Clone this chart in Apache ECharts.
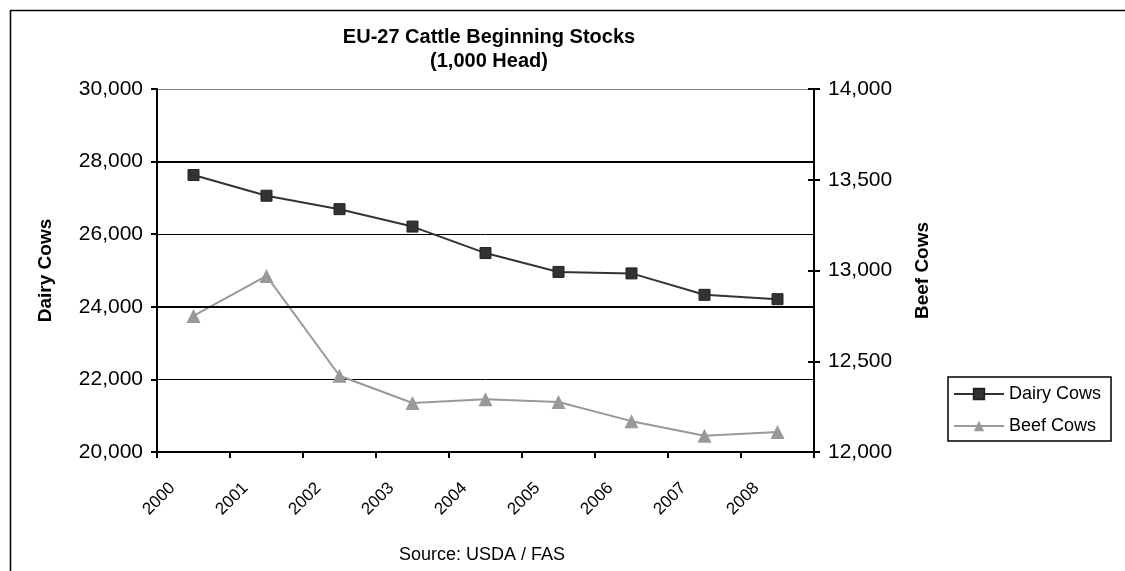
<!DOCTYPE html>
<html>
<head>
<meta charset="utf-8">
<script src="https://cdn.jsdelivr.net/npm/echarts@6/dist/echarts.min.js"></script>
<style>
  html, body { margin: 0; padding: 0; background: #fff; }
  #chart { width: 1125px; height: 571px; }
</style>
</head>
<body>
<div id="chart"></div>
<script>
// 数据
var years = ["2000", "2001", "2002", "2003", "2004", "2005", "2006", "2007", "2008"];
var tickLabels = ["2000", "2001", "2002", "2003", "2004", "2005", "2006", "2007", "2008", ""];
var dairyCows = [27630, 27060, 26690, 26210, 25480, 24960, 24920, 24330, 24210];
var beefCows = [12750, 12970, 12420, 12270, 12290, 12275, 12170, 12090, 12110];
// 原图中较粗的两条网格线
var heavyGridLines = [28000, 24000];

var chart = echarts.init(document.getElementById("chart"));
var font = "Arial, 'Liberation Sans', sans-serif";

function thousands(v) {
  return v.toLocaleString("en-US");
}

chart.setOption({
  animation: false,
  textStyle: { fontFamily: font },
  title: {
    text: "EU-27 Cattle Beginning Stocks\n(1,000 Head)",
    left: 484,
    top: 20,
    textAlign: "center",
    textStyle: { fontSize: 20, fontWeight: "bold", color: "#000", lineHeight: 24, fontFamily: font }
  },
  graphic: [
    {
      type: "rect",
      shape: { x: 10.5, y: 10.5, width: 1125, height: 600 },
      style: { fill: "none", stroke: "#000", lineWidth: 1.5 },
      silent: true
    },
    {
      type: "text",
      x: 482,
      y: 555,
      style: {
        text: "Source: USDA / FAS", fontSize: 18, fill: "#000", fontFamily: font,
        align: "center", verticalAlign: "middle"
      }
    }
  ],
  legend: {
    orient: "vertical",
    left: 948,
    top: 377,
    padding: [8, 10, 6, 5],
    itemGap: 14,
    itemWidth: 50,
    itemHeight: 13,
    borderColor: "#000",
    borderWidth: 1.5,
    textStyle: { fontSize: 18, color: "#000", fontFamily: font },
    data: ["Dairy Cows", "Beef Cows"]
  },
  grid: { left: 157, right: 311, top: 89, bottom: 119, containLabel: false },
  xAxis: [
    {
      type: "category",
      data: years,
      boundaryGap: true,
      axisLine: { show: false },
      axisTick: { show: false },
      axisLabel: { show: false }
    },
    {
      type: "category",
      data: tickLabels,
      boundaryGap: false,
      position: "bottom",
      axisLine: { lineStyle: { color: "#000", width: 2 } },
      axisTick: { length: 6, lineStyle: { color: "#000", width: 2 } },
      axisLabel: {
        rotate: 45, fontSize: 17, color: "#000", margin: 49, interval: 0, fontFamily: font,
        align: "center", verticalAlign: "middle", padding: [0, 0, 0, 6]
      },
      splitLine: { show: false }
    }
  ],
  yAxis: [
    {
      type: "value",
      min: 20000,
      max: 30000,
      interval: 2000,
      position: "left",
      name: "Dairy Cows",
      nameLocation: "middle",
      nameRotate: 90,
      nameGap: 102,
      nameTextStyle: { fontSize: 19, fontWeight: "bold", color: "#000", fontFamily: font },
      axisLine: { show: true, lineStyle: { color: "#000", width: 2 } },
      axisTick: { show: true, length: 6, lineStyle: { color: "#000", width: 2 } },
      axisLabel: { fontSize: 21, color: "#000", margin: 14, fontFamily: font, formatter: thousands },
      splitLine: {
        show: true,
        lineStyle: { color: ["#000", "#000", "#000", "#000", "#000", "#808080"], width: 1 }
      }
    },
    {
      type: "value",
      min: 12000,
      max: 14000,
      interval: 500,
      position: "right",
      name: "Beef Cows",
      nameLocation: "middle",
      nameRotate: 90,
      nameGap: 99,
      nameTextStyle: { fontSize: 19, fontWeight: "bold", color: "#000", fontFamily: font },
      axisLine: { show: true, lineStyle: { color: "#000", width: 2 } },
      axisTick: { show: true, length: 6, lineStyle: { color: "#000", width: 2 } },
      axisLabel: { fontSize: 21, color: "#000", margin: 14, fontFamily: font, formatter: thousands },
      splitLine: { show: false }
    },
    {
      // 右轴内侧刻度（原图刻度穿过轴线）
      type: "value",
      min: 12000,
      max: 14000,
      interval: 500,
      position: "right",
      axisLine: { show: false },
      axisTick: { show: true, inside: true, length: 6, lineStyle: { color: "#000", width: 2 } },
      axisLabel: { show: false },
      splitLine: { show: false }
    }
  ],
  series: [
    {
      name: "Dairy Cows",
      type: "line",
      xAxisIndex: 0,
      yAxisIndex: 0,
      data: dairyCows,
      symbol: "rect",
      symbolSize: 11,
      lineStyle: { color: "#333", width: 2 },
      itemStyle: { color: "#333", borderColor: "#222", borderWidth: 1 },
      markLine: {
        silent: true,
        symbol: "none",
        label: { show: false },
        lineStyle: { color: "#000", width: 2, type: "solid" },
        data: heavyGridLines.map(function (v) { return { yAxis: v }; })
      },
      z: 3
    },
    {
      name: "Beef Cows",
      type: "line",
      xAxisIndex: 0,
      yAxisIndex: 1,
      data: beefCows,
      symbol: "triangle",
      symbolSize: 14,
      lineStyle: { color: "#999", width: 2 },
      itemStyle: { color: "#999" }
    }
  ]
});
</script>
</body>
</html>
